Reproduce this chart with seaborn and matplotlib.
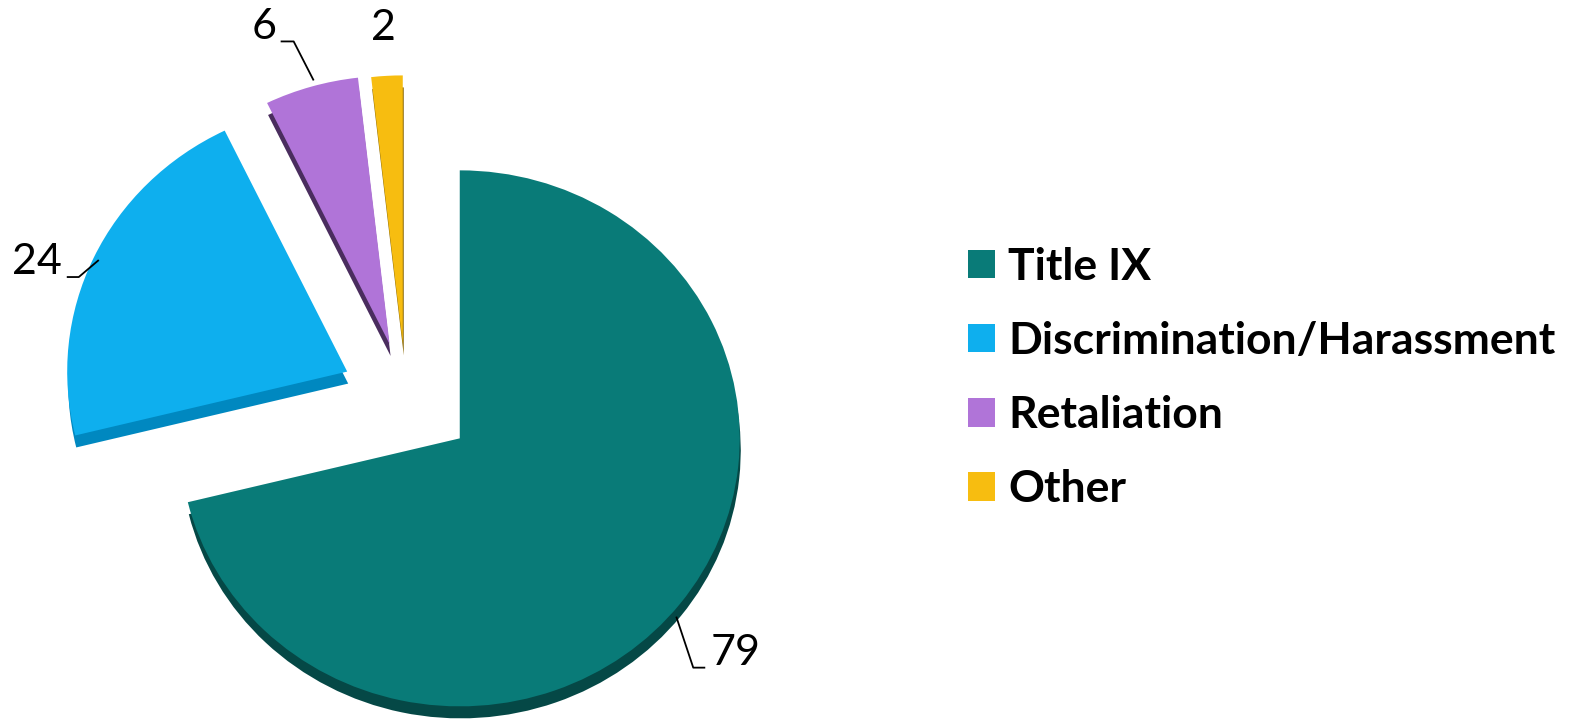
import numpy as np
import matplotlib
matplotlib.use("Agg")
import matplotlib.pyplot as plt
import seaborn as sns

categories = ["Title IX", "Discrimination/Harassment", "Retaliation", "Other"]
counts = [79, 24, 6, 2]
label_text = ["79", "24", "6", "2"]

face_colors = ["#097B78", "#0EAFEE", "#B074D8", "#F7BD10"]
side_colors = ["#054846", "#0088C0", "#4A2D5E", "#8C6A06"]
explode = [0.244, 0.232, 0.21, 0.204]

sns.set_theme(style="white")
plt.rcParams["font.family"] = ["Lato", "DejaVu Sans"]

W, H = 1579, 726
fig = plt.figure(figsize=(W / 100, H / 100), dpi=100)
fig.patch.set_facecolor("white")

# pie area: left part of the figure, slightly squashed vertically (3D tilt)
ax_w = 820
rx, ry = 280.0, 268.0
cx, cy = 406, 398
ax = fig.add_axes([0, 0, ax_w / W, 1])

# side (depth) of the 3D pie, drawn first and shifted down
ax.pie(counts, explode=explode, colors=side_colors, startangle=90,
       counterclock=False, center=(1 / rx, -12 / ry),
       wedgeprops=dict(linewidth=0))
wedges, _ = ax.pie(counts, explode=explode, colors=face_colors, startangle=90,
                   counterclock=False, wedgeprops=dict(linewidth=0))

ax.set_aspect("auto")
ax.set_xlim(-cx / rx, (ax_w - cx) / rx)
ax.set_ylim(-(H - cy) / ry, cy / ry)
ax.axis("off")

# value labels with leader lines (offsets in pixels, y up)
anchor_r = [1.02, 0.98, 1.02, 1.0]
anchor_da = [-2.6, 0, -0.8, 0]
leaders = [
    [(17, -51), (29, -51)],
    [(-20, -17), (-32, -17)],
    [(-20, 39), (-33, 39)],
    None,
]
text_off = [(34, -36), (-37, -2), (-37, 53), (-3, 48)]
text_ha = ["left", "right", "right", "center"]

for w, lab, ar, da, ld, to, ha in zip(wedges, label_text, anchor_r, anchor_da,
                                      leaders, text_off, text_ha):
    mid = np.deg2rad((w.theta1 + w.theta2) / 2 + da)
    x0 = w.center[0] + ar * w.r * np.cos(mid)
    y0 = w.center[1] + ar * w.r * np.sin(mid)
    if ld is not None:
        xs = [x0] + [x0 + p[0] / rx for p in ld]
        ys = [y0] + [y0 + p[1] / ry for p in ld]
        ax.plot(xs, ys, color="black", lw=1.3, solid_capstyle="butt")
    ax.annotate(lab, (x0, y0), xytext=to, textcoords="offset pixels",
                ha=ha, va="center", fontsize=31, color="black")

leg = fig.legend(wedges, categories, loc="center left",
                 bbox_to_anchor=(968 / W, 1 - 378 / H), frameon=False,
                 fontsize=32, handlelength=0.61, handleheight=0.61,
                 handletextpad=0.29, labelspacing=0.77, borderpad=0,
                 borderaxespad=0)
for t in leg.get_texts():
    t.set_fontweight("bold")
    t.set_color("black")

fig.savefig("out.png", dpi=100)
